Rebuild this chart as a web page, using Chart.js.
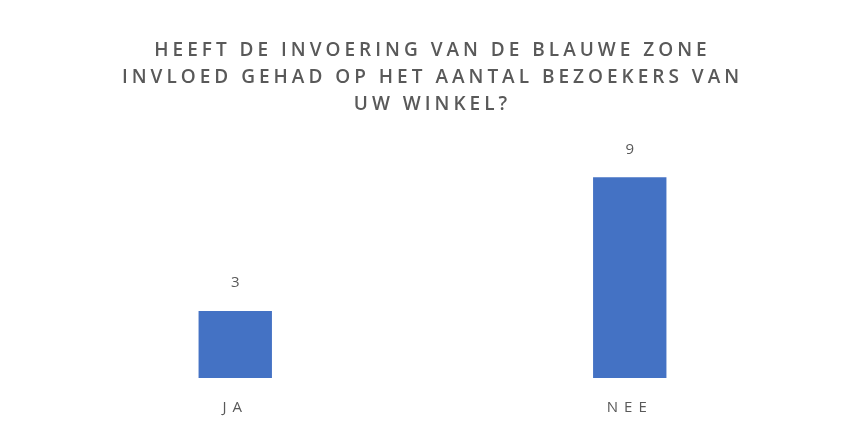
<!DOCTYPE html>
<html>
<head>
<meta charset="utf-8">
<script src="https://cdn.jsdelivr.net/npm/chart.js@4/dist/chart.umd.min.js"></script>
<style>
    html, body { margin: 0; padding: 0; background: #ffffff; overflow: hidden; }
    #myChart { display: block; }
</style>
</head>
<body>
<div id="graph-container"><canvas id="myChart" width="845" height="427"></canvas></div>
<script>
var categories = ['JA', 'NEE'];
var answers = [3, 9];
var titleLines = [
    'HEEFT DE INVOERING VAN DE BLAUWE ZONE',
    'INVLOED GEHAD OP HET AANTAL BEZOEKERS VAN',
    'UW WINKEL?'
];

var textColor = '#595959';

// spaced capitals like the office chart style
var letterSpacing = {
    id: 'letterSpacing',
    beforeDraw: function (chart) {
        chart.ctx.letterSpacing = '4px';
    }
};

// value above each bar, then wider spacing for the category labels (drawn after, ticks.z = 1)
var valueLabels = {
    id: 'valueLabels',
    afterDatasetsDraw: function (chart) {
        var ctx = chart.ctx;
        var meta = chart.getDatasetMeta(0);
        ctx.save();
        ctx.font = '15px "Open Sans"';
        ctx.fillStyle = textColor;
        ctx.textAlign = 'center';
        ctx.textBaseline = 'middle';
        meta.data.forEach(function (bar, i) {
            ctx.fillText(String(chart.data.datasets[0].data[i]), bar.x + 2, bar.y - 28);
        });
        ctx.restore();
        ctx.letterSpacing = '6px';
    }
};

const ctx = document.getElementById('myChart').getContext('2d');

var myChart = new Chart(ctx, {
    type: 'bar',
    data: {
        labels: categories,
        datasets: [{
            label: 'Aantal',
            data: answers,
            backgroundColor: '#4472C4',
            borderWidth: 0,
            categoryPercentage: 1,
            barPercentage: 0.186
        }]
    },
    options: {
        responsive: false,
        animation: { duration: 0 },
        layout: {
            padding: { top: 37, left: 38, right: 18, bottom: 0 }
        },
        plugins: {
            legend: { display: false },
            tooltip: { enabled: false },
            title: {
                display: true,
                text: titleLines,
                color: textColor,
                font: { family: '"Open Sans"', size: 19, weight: '600', lineHeight: 1.42 },
                padding: { top: 0, bottom: 37 }
            }
        },
        scales: {
            x: {
                grid: { display: false, tickLength: 11 },
                border: { display: false },
                ticks: {
                    z: 1,
                    color: textColor,
                    padding: 10,
                    font: { family: '"Open Sans"', size: 15 }
                }
            },
            y: {
                display: false,
                min: 0,
                max: 10
            }
        }
    },
    plugins: [letterSpacing, valueLabels]
});
</script>
</body>
</html>
